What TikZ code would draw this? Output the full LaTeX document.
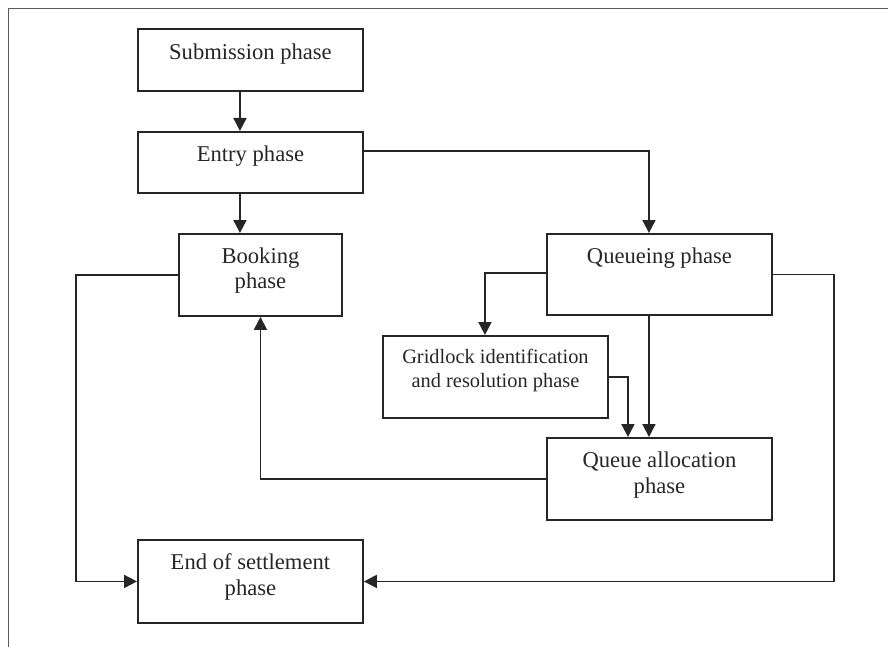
\documentclass[tikz,border=0pt]{standalone}
\usepackage{fontspec}
\setmainfont{Liberation Serif}
\usetikzlibrary{arrows.meta,calc}
\definecolor{ink}{HTML}{262626}
\definecolor{framec}{HTML}{5A5A5A}
\begin{document}
\begin{tikzpicture}[x=1pt,y=-1pt,
  box/.style={draw=ink,line width=1.9pt,minimum width=225pt,minimum height=82pt,inner sep=0pt,anchor=north west},
  txt/.style={inner sep=0pt,anchor=base,text=ink,font=\fontsize{22.6}{26}\selectfont},
  stxt/.style={inner sep=0pt,anchor=base,text=ink,font=\fontsize{20.4}{24}\selectfont},
  arr/.style={draw=ink,line width=1.9pt,-{Triangle[length=13pt,width=13pt]}},
  ln/.style={draw=ink,line width=1.9pt}]
\useasboundingbox (0,0) rectangle (888,647);
% frame
\draw[framec,line width=1.8pt] (8.5,647) -- (8.5,8.5) -- (888,8.5);
% boxes
\node[box,minimum height=62pt] (sub) at (137,28) {};
\node[box,minimum height=61pt] (ent) at (137,131) {};
\node[box,minimum width=163pt] (boo) at (178,233) {};
\node[box,minimum height=81pt] (que) at (546,233) {};
\node[box] (grid) at (382,335) {};
\node[box] (qa) at (546,437) {};
\node[box,minimum height=83pt] (end) at (137,539) {};
% texts
\node[txt] (sub-t) at ([yshift=-32pt]sub.north) {Submission phase};
\node[txt] (ent-t) at ([yshift=-31pt]ent.north) {Entry phase};
\node[txt] (boo-t1) at ([yshift=-30pt]boo.north) {Booking};
\node[txt] (boo-t2) at ([yshift=-55pt]boo.north) {phase};
\node[txt] (que-t) at ([yshift=-30pt]que.north) {Queueing phase};
\node[stxt] (grid-t1) at ([yshift=-28pt]grid.north) {Gridlock identification};
\node[stxt] (grid-t2) at ([yshift=-52pt]grid.north) {and resolution phase};
\node[txt] (qa-t1) at ([yshift=-30pt]qa.north) {Queue allocation};
\node[txt] (qa-t2) at ([yshift=-56pt]qa.north) {phase};
\node[txt] (end-t1) at ([yshift=-30pt]end.north) {End of settlement};
\node[txt] (end-t2) at ([yshift=-56pt]end.north) {phase};
% connectors
\draw[arr] ([xshift=-10.5pt]sub.south) -- ([xshift=-10.5pt]ent.north);
\draw[arr] ([xshift=-10.5pt]ent.south) -- ([xshift=-10.5pt]ent.south |- boo.north);
\draw[arr] ([yshift=-20pt]ent.north east) -| ([xshift=-10.5pt]que.north);
\draw[arr] ([yshift=-40pt]que.north west) -| ([xshift=-10.5pt]grid.north);
\draw[arr] ([xshift=-10.5pt]que.south) -- ([xshift=-10.5pt]qa.north);
\draw[arr] ([yshift=-42pt]grid.north east) -| ([xshift=-31.5pt]qa.north);
\draw[arr] (qa.west) -| (boo.south);
\draw[arr] (boo.west) -- ++(-102,0) |- (end.west);
\draw[arr] (que.east) -- ++(61,0) |- (end.east);
\end{tikzpicture}
\end{document}
